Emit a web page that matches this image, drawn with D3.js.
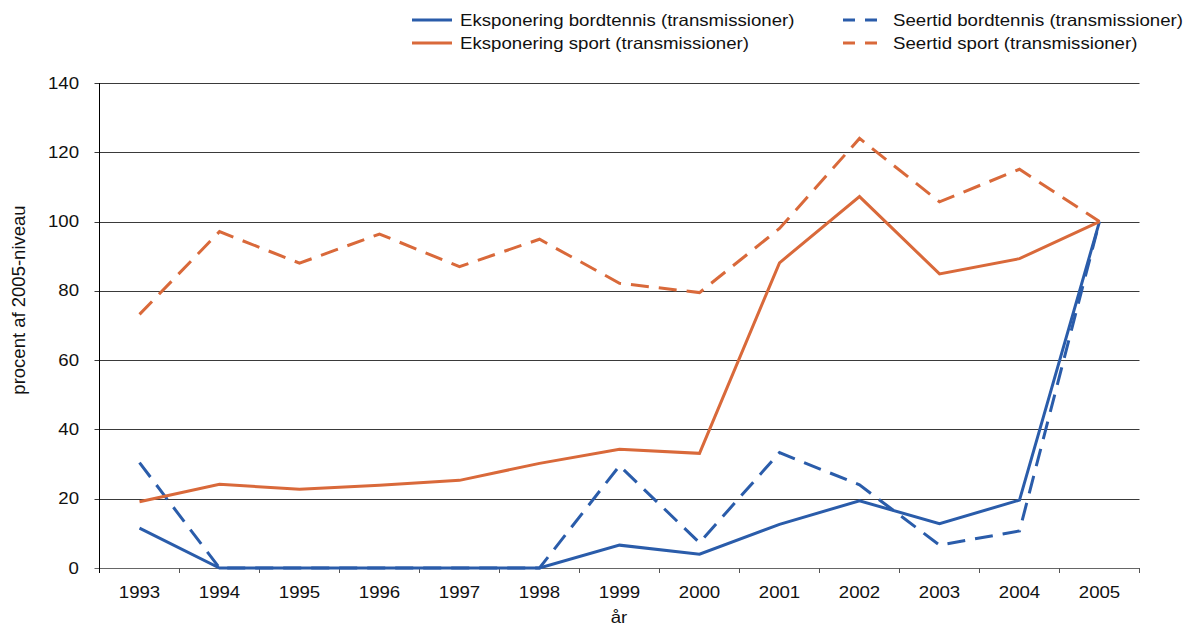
<!DOCTYPE html>
<html>
<head>
<meta charset="utf-8">
<script src="https://cdn.jsdelivr.net/npm/d3@7"></script>
<style>
  html, body { margin: 0; padding: 0; background: #fff; }
  svg text { font-family: "Liberation Sans", Arial, Helvetica, sans-serif; fill: #111; }
</style>
</head>
<body>
<svg id="chart" width="1192" height="626"></svg>
<script>
const years = ["1993","1994","1995","1996","1997","1998","1999","2000","2001","2002","2003","2004","2005"];
const eksBordtennis = [11.5, 0, 0, 0, 0, 0, 6.6, 4.0, 12.6, 19.4, 12.8, 19.6, 100];
const eksSport      = [19.1, 24.2, 22.7, 23.9, 25.3, 30.2, 34.3, 33.1, 88.1, 107.2, 84.9, 89.3, 100];
const seerBordtennis= [30.4, 0, 0, 0, 0, 0, 29.5, 7.3, 33.3, 24.0, 6.6, 10.7, 100];
const seerSport     = [73.2, 97.1, 88.0, 96.4, 87.0, 94.9, 82.2, 79.5, 98.0, 124.0, 105.7, 115.1, 100];
const yTicks = [0, 20, 40, 60, 80, 100, 120, 140];
const seriesNames = ["Eksponering bordtennis (transmissioner)", "Eksponering sport (transmissioner)",
                     "Seertid bordtennis (transmissioner)", "Seertid sport (transmissioner)"];
const xTitle = "år";
const yTitle = "procent af 2005-niveau";

const blue = "#2a5caa", orange = "#d9693a";
const series = [
  {name: seriesNames[0], values: eksBordtennis, color: blue, dash: null},
  {name: seriesNames[1], values: eksSport, color: orange, dash: null},
  {name: seriesNames[2], values: seerBordtennis, color: blue, dash: "18,10"},
  {name: seriesNames[3], values: seerSport, color: orange, dash: "18,10"}
];

const svg = d3.select("#chart");
const L = 99.5, R = 1139.5, T = 83, B = 568;
const SX = 1.13, FS = 16.5;

const x = d3.scaleBand().domain(years).range([L, R]).padding(0);
const y = d3.scaleLinear().domain([0, 140]).range([B, T]);

function txt(g, xx, yy, s, anchor, baseline) {
  return g.append("text")
    .attr("transform", `translate(${xx},${yy}) scale(${SX},1)`)
    .attr("text-anchor", anchor || "start")
    .attr("dominant-baseline", baseline || "central")
    .style("font-size", FS + "px")
    .text(s);
}

// gridlines
const grid = svg.append("g");
grid.selectAll("line").data(yTicks.filter(d => d > 0)).join("line")
  .attr("x1", L - 5).attr("x2", R)
  .attr("y1", d => Math.round(y(d)) + 0.5).attr("y2", d => Math.round(y(d)) + 0.5)
  .attr("stroke", "#3a3a3a").attr("stroke-width", 1);

// bottom axis line
svg.append("line").attr("x1", L - 5).attr("x2", R).attr("y1", B + 0.5).attr("y2", B + 0.5)
  .attr("stroke", "#666").attr("stroke-width", 1.2);
// x ticks at band boundaries
const bounds = years.map(d => x(d)).concat([R]);
svg.append("g").selectAll("line").data(bounds).join("line")
  .attr("x1", d => d).attr("x2", d => d).attr("y1", B).attr("y2", B + 5)
  .attr("stroke", "#555").attr("stroke-width", 1);
// left axis
svg.append("line").attr("x1", L).attr("x2", L).attr("y1", T).attr("y2", B + 5)
  .attr("stroke", "#000").attr("stroke-width", 1);

// y tick labels
const yl = svg.append("g");
yTicks.forEach(t => txt(yl, 79, y(t), String(t), "end"));
// x tick labels
const xl = svg.append("g");
years.forEach(yr => txt(xl, x(yr) + x.bandwidth() / 2, 592, yr, "middle"));
// axis titles
txt(svg, 619, 617, xTitle, "middle");
svg.append("text")
  .attr("transform", "translate(18,300) rotate(-90)")
  .attr("text-anchor", "middle").attr("dominant-baseline", "central")
  .style("font-size", "18.5px").text(yTitle);

// lines
const line = d3.line()
  .x((d, i) => x(years[i]) + x.bandwidth() / 2)
  .y(d => y(d));
const lg = svg.append("g");
[series[0], series[2], series[1], series[3]].forEach(s => {
  lg.append("path").datum(s.values)
    .attr("d", line)
    .attr("fill", "none")
    .attr("stroke", s.color)
    .attr("stroke-width", 3)
    .attr("stroke-linejoin", "miter")
    .attr("stroke-dasharray", s.dash);
});

// legend
const leg = svg.append("g");
const legPos = [
  {sx: 412, ex: 452, tx: 460, ty: 20},
  {sx: 412, ex: 452, tx: 460, ty: 43},
  {sx: 843, ex: 877, tx: 893, ty: 20},
  {sx: 843, ex: 877, tx: 893, ty: 43}
];
series.forEach((s, i) => {
  const p = legPos[i];
  leg.append("line").attr("x1", p.sx).attr("x2", p.ex).attr("y1", p.ty).attr("y2", p.ty)
    .attr("stroke", s.color).attr("stroke-width", 3)
    .attr("stroke-dasharray", s.dash ? "12,10" : null);
  txt(leg, p.tx, p.ty, s.name, "start");
});
</script>
</body>
</html>
